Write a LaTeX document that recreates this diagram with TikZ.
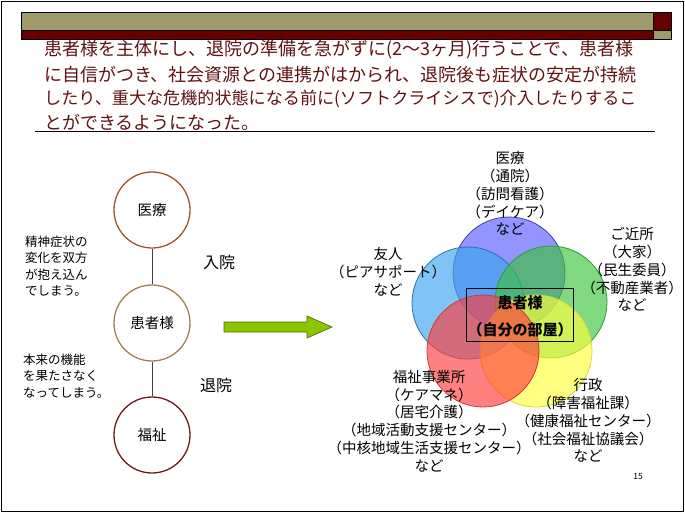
\documentclass[tikz,border=0pt]{standalone}
\usepackage{fontspec}
\newfontfamily\cjk{Noto Sans CJK JP}
\definecolor{olivebar}{RGB}{158,154,106}
\definecolor{darkbar}{RGB}{102,0,0}
\definecolor{titletext}{RGB}{95,18,18}
\definecolor{cIryo}{RGB}{160,82,45}
\definecolor{cKanja}{RGB}{165,125,85}
\definecolor{cFuku}{RGB}{110,25,25}
\definecolor{arrowfill}{RGB}{141,196,0}
\definecolor{arrowdraw}{RGB}{80,110,0}
\definecolor{vBlue}{RGB}{90,90,255}
\definecolor{vLBlue}{RGB}{60,165,240}
\definecolor{vGreen}{RGB}{60,195,60}
\definecolor{vRed}{RGB}{255,60,60}
\definecolor{vYellow}{RGB}{255,255,60}
\tikzset{
  titleline/.style={anchor=west,inner sep=0pt,text=titletext,font={\cjk\fontsize{18}{22}\selectfont}},
  lcircle/.style={circle,minimum size=76pt,inner sep=0pt,line width=1.3pt,font={\cjk\fontsize{14.5}{17}\selectfont}},
  conn/.style={draw=black!75,line width=0.8pt},
  sidetext/.style={inner sep=0pt,align=left,font={\cjk\fontsize{12.5}{16.5}\selectfont}},
  movetext/.style={inner sep=0pt,font={\cjk\fontsize{16}{19}\selectfont}},
  venn/.style={circle,minimum size=112pt,inner sep=0pt,fill opacity=0.65,line width=0.8pt},
  vlabel/.style={inner sep=0pt,align=center,font={\cjk\fontsize{14.5}{17.8}\selectfont}},
  centerlabel/.style={inner sep=0pt,font={\cjk\bfseries\fontsize{15}{18}\selectfont}},
}
\begin{document}
\begin{tikzpicture}[x=1pt,y=-1pt]
\useasboundingbox (0,0) rectangle (685,514);
% frame
\draw[line width=1pt] (1,1) rectangle (683,511);
% header bars
\fill[olivebar] (21,12) rectangle (653,30);
\fill[darkbar] (21,30) rectangle (653,39);
\fill[darkbar] (653,12) rectangle (671,30);
\fill[olivebar] (653,30) rectangle (671,39);
\draw[line width=0.6pt] (21,12) rectangle (671,39);
\draw[line width=0.6pt] (21,30) -- (671,30);
\draw[line width=0.6pt] (653,12) -- (653,39);
% title text
\node[titleline] (t1) at (44,50) {患者様を主体にし、退院の準備を急がずに(2～3ヶ月)行うことで、患者様};
\node[titleline] (t2) at (44,75) {に自信がつき、社会資源との連携がはかられ、退院後も症状の安定が持続};
\node[titleline,font={\cjk\fontsize{17.1}{22}\selectfont}] (t3) at (44,99) {したり、重大な危機的状態になる前に(ソフトクライシスで)介入したりするこ};
\node[titleline] (t4) at (44,122) {とができるようになった。};
\draw[line width=0.9pt] (35,131) -- (655,131);
% left diagram
\node[lcircle,draw=cIryo] (iryo) at (152,210) {医療};
\node[lcircle,draw=cKanja] (kanja) at (152,323) {患者様};
\node[lcircle,draw=cFuku] (fuku) at (152,435) {福祉};
\draw[conn] (iryo) -- (kanja);
\draw[conn] (kanja) -- (fuku);
\node[movetext] (nyuin) at (219,262) {入院};
\node[movetext] (taiin) at (216,385) {退院};
\node[sidetext,anchor=west] (s1) at (25,266) {精神症状の\\変化を双方\\が抱え込ん\\でしまう。};
\node[sidetext,anchor=west] (s2) at (23,376) {本来の機能\\を果たさなく\\なってしまう。};
% arrow
\filldraw[fill=arrowfill,draw=arrowdraw,line width=0.7pt]
  (224,322) -- (307,322) -- (307,316) -- (332,327) -- (307,338) -- (307,332) -- (224,332) -- cycle;
% venn
\node[venn,fill=vBlue,draw=vBlue!70!black] (vb) at (509,273) {};
\node[venn,fill=vLBlue,draw=vLBlue!70!black] (vl) at (468,303) {};
\node[venn,fill=vGreen,draw=vGreen!80!black] (vg) at (551,302) {};
\node[venn,fill=vYellow,draw=vYellow!85!black] (vy) at (536,351) {};
\node[venn,fill=vRed,draw=vRed!85!black] (vr) at (483,351) {};
\node[draw,line width=0.8pt,minimum width=107pt,minimum height=53pt,inner sep=0pt] (room) at (519.5,314.5) {};
\node[centerlabel] (c1) at (520,303) {患者様};
\node[centerlabel] (c2) at (520,330) {（自分の部屋）};
% labels
\node[vlabel] (lTop) at (510,193.5) {医療\\（通院）\\（訪問看護）\\（デイケア）\\など};
\node[vlabel] (lLeft) at (388,271.5) {友人\\（ピアサポート）\\など};
\node[vlabel] (lRight) at (632,269.5) {ご近所\\（大家）\\（民生委員）\\（不動産業者）\\など};
\node[vlabel] (lBL) at (429,421) {福祉事業所\\（ケアマネ）\\（居宅介護）\\（地域活動支援センター）\\（中核地域生活支援センター）\\など};
\node[vlabel] (lBR) at (588,420.5) {行政\\（障害福祉課）\\（健康福祉センター）\\（社会福祉協議会）\\など};
\node[inner sep=0pt,font={\cjk\fontsize{8.5}{10}\selectfont}] (pg) at (638,477) {15};
\end{tikzpicture}
\end{document}
